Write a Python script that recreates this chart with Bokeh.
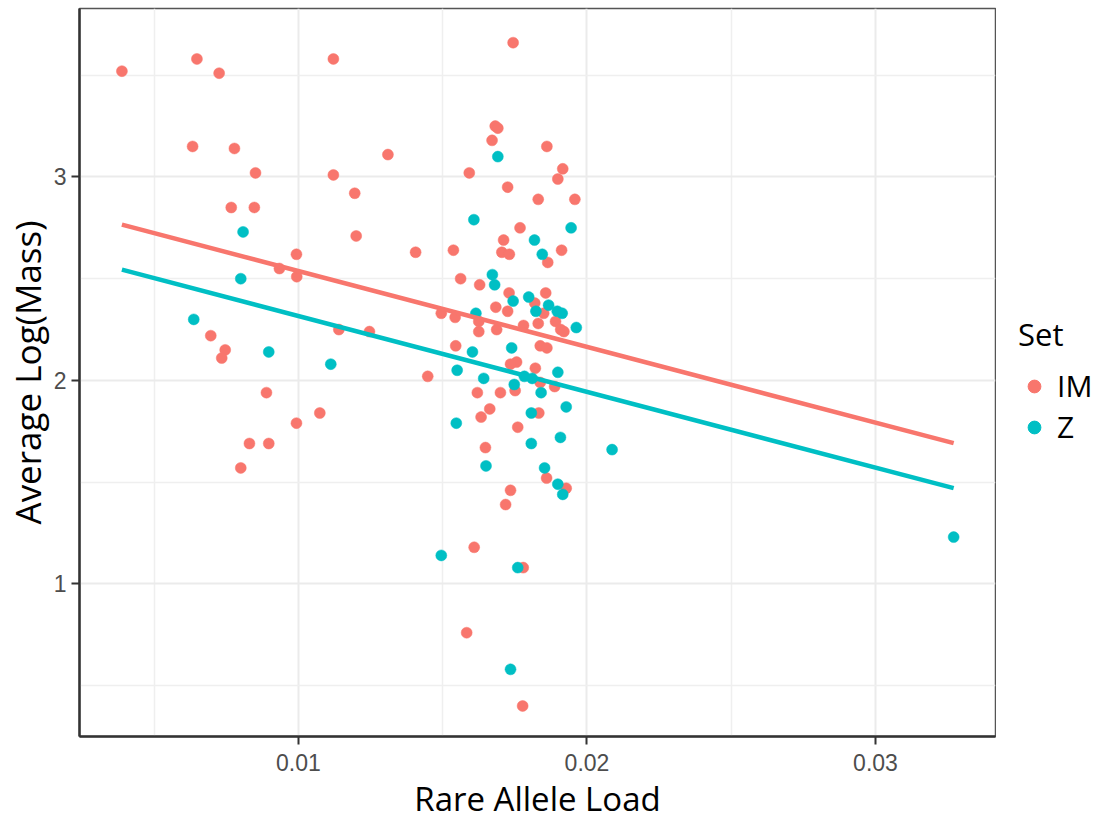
import numpy as np
from bokeh.plotting import figure
from bokeh.layouts import row
from bokeh.models import Range1d, FixedTicker, Legend, LegendItem
from bokeh.embed import file_html
from bokeh.resources import INLINE

# Rare allele load vs. average log(mass), two sets
im_load = [0.00388, 0.00648, 0.00725, 0.01121, 0.00633, 0.00778, 0.01310, 0.00851, 0.01121,
           0.01195, 0.00767, 0.00847, 0.01200, 0.00993, 0.00934, 0.00994, 0.00696, 0.00746,
           0.00734, 0.01140, 0.01246, 0.00889, 0.01074, 0.00993, 0.00830, 0.00897, 0.00800,
           0.01744, 0.01682, 0.01691, 0.01671, 0.01861, 0.01592, 0.01916, 0.01899, 0.01725,
           0.01831, 0.01958, 0.01768, 0.01711, 0.01406, 0.01537, 0.01705, 0.01731, 0.01912,
           0.01864, 0.01562, 0.01628, 0.01730, 0.01857, 0.01819, 0.01684, 0.01725, 0.01850,
           0.01495, 0.01543, 0.01625, 0.01625, 0.01687, 0.01780, 0.01831, 0.01891, 0.01909,
           0.01920, 0.01545, 0.01838, 0.01861, 0.01756, 0.01735, 0.01448, 0.01821, 0.01838,
           0.01751, 0.01888, 0.01620, 0.01700, 0.01663, 0.01633, 0.01833, 0.01760, 0.01648,
           0.01860, 0.01928, 0.01735, 0.01718, 0.01609, 0.01779, 0.01583, 0.01777]
im_mass = [3.52, 3.58, 3.51, 3.58, 3.15, 3.14, 3.11, 3.02, 3.01,
           2.92, 2.85, 2.85, 2.71, 2.62, 2.55, 2.51, 2.22, 2.15,
           2.11, 2.25, 2.24, 1.94, 1.84, 1.79, 1.69, 1.69, 1.57,
           3.66, 3.25, 3.24, 3.18, 3.15, 3.02, 3.04, 2.99, 2.95,
           2.89, 2.89, 2.75, 2.69, 2.63, 2.64, 2.63, 2.62, 2.64,
           2.58, 2.50, 2.47, 2.43, 2.43, 2.38, 2.36, 2.34, 2.33,
           2.33, 2.31, 2.29, 2.24, 2.25, 2.27, 2.28, 2.29, 2.25,
           2.24, 2.17, 2.17, 2.16, 2.09, 2.08, 2.02, 2.06, 1.99,
           1.95, 1.97, 1.94, 1.94, 1.86, 1.82, 1.84, 1.77, 1.67,
           1.52, 1.47, 1.46, 1.39, 1.18, 1.08, 0.76, 0.40]

z_load = [0.00808, 0.00800, 0.00637, 0.00897, 0.01112, 0.01691, 0.01608, 0.01945, 0.01818,
          0.01845, 0.01672, 0.01680, 0.01798, 0.01744, 0.01867, 0.01823, 0.01897, 0.01914,
          0.01615, 0.01963, 0.01603, 0.01739, 0.01550, 0.01642, 0.01783, 0.01810, 0.01899,
          0.01748, 0.01841, 0.01928, 0.01807, 0.01547, 0.01908, 0.01807, 0.02087, 0.01650,
          0.01853, 0.01899, 0.01916, 0.01495, 0.01760, 0.01735, 0.03271]
z_mass = [2.73, 2.50, 2.30, 2.14, 2.08, 3.10, 2.79, 2.75, 2.69,
          2.62, 2.52, 2.47, 2.41, 2.39, 2.37, 2.34, 2.34, 2.33,
          2.33, 2.26, 2.14, 2.16, 2.05, 2.01, 2.02, 2.01, 2.04,
          1.98, 1.94, 1.87, 1.84, 1.79, 1.72, 1.69, 1.66, 1.58,
          1.57, 1.49, 1.44, 1.14, 1.08, 0.58, 1.23]

# Linear fit with a shared slope and one intercept per set
fit_slope = -37.25
fit_intercept_im = 2.910
fit_intercept_z = 2.689

set_names = ["IM", "Z"]
set_colors = ["#F8766D", "#00BFC4"]

p = figure(width=996, height=823, output_backend="svg", toolbar_location=None,
           x_range=Range1d(0.00241, 0.03416), y_range=Range1d(0.25, 3.828),
           min_border_left=79, min_border_right=1, min_border_top=8, min_border_bottom=84)
p.background_fill_color = "white"
p.border_fill_color = "white"
p.outline_line_color = "#555555"
p.outline_line_width = 1.5

p.xaxis.ticker = FixedTicker(ticks=[0.01, 0.02, 0.03], minor_ticks=[0.005, 0.015, 0.025])
p.yaxis.ticker = FixedTicker(ticks=[1, 2, 3], minor_ticks=[0.5, 1.5, 2.5, 3.5])

for g in (p.xgrid, p.ygrid):
    g.grid_line_color = "#EBEBEB"
    g.grid_line_width = 2
    g.minor_grid_line_color = "#EFEFEF"
    g.minor_grid_line_width = 1.5

for ax in (p.xaxis, p.yaxis):
    ax.axis_line_color = "#333333"
    ax.axis_line_width = 2.5
    ax.major_tick_line_color = "#333333"
    ax.major_tick_line_width = 2
    ax.major_tick_in = 0
    ax.major_tick_out = 8
    ax.minor_tick_line_color = None
    ax.major_label_text_font = "Liberation Sans"
    ax.major_label_text_font_size = "23px"
    ax.major_label_text_color = "#4D4D4D"
    ax.axis_label_text_font = "Open Sans"
    ax.axis_label_text_font_style = "normal"
    ax.axis_label_text_color = "black"

p.xaxis.axis_label = "Rare Allele Load"
p.yaxis.axis_label = "Average Log(Mass)"
p.xaxis.axis_label_text_font_size = "33px"
p.yaxis.axis_label_text_font_size = "35px"
p.xaxis.major_label_standoff = 9
p.xaxis.axis_label_standoff = 2
p.yaxis.major_label_standoff = 5
p.yaxis.axis_label_standoff = 0

r_im = p.scatter(im_load, im_mass, size=11, fill_color=set_colors[0], line_color=set_colors[0], line_width=0.5)
r_z = p.scatter(z_load, z_mass, size=11, fill_color=set_colors[1], line_color=set_colors[1], line_width=0.5)

all_load = im_load + z_load
xs = np.array([min(all_load), max(all_load)])
p.line(xs, fit_intercept_im + fit_slope * xs, line_color=set_colors[0], line_width=4.5)
p.line(xs, fit_intercept_z + fit_slope * xs, line_color=set_colors[1], line_width=4.5)

# Side strip that carries the legend to the right of the panel;
# its key markers sit outside the strip's visible range
lf = figure(width=106, height=823, output_backend="svg", toolbar_location=None,
            x_range=Range1d(0, 1), y_range=Range1d(0, 1), min_border=0)
lf.axis.visible = False
lf.grid.visible = False
lf.outline_line_color = None
lf.background_fill_color = "white"
lf.border_fill_color = "white"
keys = [lf.scatter([5], [5], size=11, fill_color=c, line_color=c) for c in set_colors]

legend = Legend(items=[LegendItem(label=n, renderers=[k]) for n, k in zip(set_names, keys)],
                location=(22, 289), title="Set")
legend.title_text_font = "Open Sans"
legend.title_text_font_size = "31px"
legend.title_text_font_style = "normal"
legend.title_text_color = "black"
legend.label_text_font = "Open Sans"
legend.label_text_font_size = "30px"
legend.label_text_color = "black"
legend.glyph_width = 32
legend.glyph_height = 32
legend.label_height = 32
legend.spacing = -7
legend.label_standoff = 7
legend.title_standoff = 10
legend.border_line_color = None
legend.background_fill_alpha = 0
legend.margin = 0
legend.padding = 4
lf.add_layout(legend)

layout = row(p, lf, spacing=0)
open("out.html", "w").write(file_html(layout, INLINE))
